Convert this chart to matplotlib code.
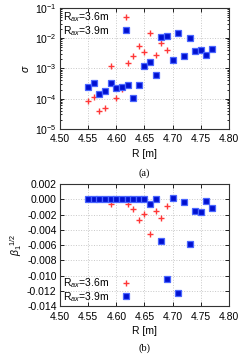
import numpy as np
import matplotlib
matplotlib.use("Agg")
import matplotlib.pyplot as plt
from matplotlib.ticker import LogLocator, FixedLocator, FormatStrFormatter

plt.rcParams['font.family'] = ['Liberation Sans', 'DejaVu Sans']
plt.rcParams['mathtext.fontset'] = 'custom'
plt.rcParams['mathtext.rm'] = 'Liberation Sans'
plt.rcParams['mathtext.it'] = 'Liberation Sans:italic'

# R positions [m]
r_36 = [4.55, 4.56, 4.57, 4.58, 4.59, 4.60, 4.61, 4.62, 4.63, 4.64, 4.65, 4.66, 4.67, 4.68, 4.69]
r_39 = [4.55, 4.56, 4.57, 4.58, 4.59, 4.60, 4.61, 4.62, 4.63, 4.64, 4.65, 4.66,
        4.67, 4.68, 4.69, 4.70, 4.71, 4.72, 4.73, 4.74, 4.75, 4.76, 4.77]

# (a) sigma
sigma_36 = [8.1e-5, 1.15e-4, 3.9e-5, 5.0e-5, 1.24e-3, 1.07e-4, 2.1e-4, 1.45e-3,
            2.6e-3, 5.5e-3, 3.6e-3, 1.43e-2, 2.7e-3, 7.1e-3, 3.9e-3]
sigma_39 = [2.35e-4, 3.2e-4, 1.4e-4, 1.78e-4, 3.2e-4, 2.2e-4, 2.46e-4, 2.9e-4,
            1.05e-4, 2.8e-4, 1.24e-3, 1.63e-3, 6.1e-4, 1.09e-2, 1.17e-2, 1.9e-3,
            1.5e-2, 2.6e-3, 1.03e-2, 3.8e-3, 4.0e-3, 2.8e-3, 4.4e-3]

# (b) beta_1^(1/2)
beta_36 = [0.0, 0.0, 0.0, 0.0, -0.00064, 0.0, 0.0, -0.00064, -0.0013, -0.0027,
           -0.0019, -0.0045, -0.0015, -0.0024, -0.00094]
beta_39 = [0.0, 0.0, 0.0, 0.0, 0.0, 0.0, 0.0, 0.0, 0.0, 0.0, 0.0, -0.00055,
           0.0, -0.0054, -0.0104, 0.0002, -0.0123, -0.0003, -0.0058, -0.0015,
           -0.0017, -0.0002, -0.0012]

labels = [r'R$_{ax}$=3.6m', r'R$_{ax}$=3.9m']
x_ticks = [4.50, 4.55, 4.60, 4.65, 4.70, 4.75, 4.80]
fs = 7.5

fig = plt.figure(figsize=(2.41, 3.56), dpi=100)
ax1 = fig.add_axes([0.249, 0.638, 0.701, 0.340])
ax2 = fig.add_axes([0.249, 0.140, 0.701, 0.343])

red_kw = dict(ls='none', marker='+', ms=4.6, mew=1.0, color='#ff3838')
blue_kw = dict(ls='none', marker='s', ms=4.0, mfc='#0010d0', mec='#4a66ff', mew=0.9)

for ax in (ax1, ax2):
    ax.set_xlim(4.50, 4.80)
    ax.xaxis.set_major_locator(FixedLocator(x_ticks))
    ax.xaxis.set_major_formatter(FormatStrFormatter('%.2f'))
    ax.tick_params(which='both', direction='in', top=True, right=True,
                   labelsize=fs, pad=2.5, width=0.6)
    ax.tick_params(axis='x', pad=4)
    ax.tick_params(which='major', length=3)
    ax.tick_params(which='minor', length=1.6)
    ax.grid(True, which='major', color='#c8c8c8', ls=':', lw=0.7)
    ax.set_xlabel('R [m]', fontsize=fs, labelpad=3)
    for s in ax.spines.values():
        s.set_linewidth(0.8)
        s.set_color('#333333')

ax1.plot(r_36, sigma_36, label=labels[0], **red_kw)
ax1.plot(r_39, sigma_39, label=labels[1], **blue_kw)
ax1.set_yscale('log')
ax1.set_ylim(1e-5, 1e-1)
ax1.yaxis.set_minor_locator(LogLocator(base=10, subs=np.arange(2, 10)))
ax1.set_ylabel(r'$\sigma$', fontsize=fs, labelpad=3)
ax1.legend(loc='upper left', markerfirst=False, frameon=False, fontsize=fs,
           handlelength=1.0, handletextpad=1.2, labelspacing=-0.05,
           borderaxespad=0.1, borderpad=0.15)

ax2.plot(r_36, beta_36, label=labels[0], **red_kw)
ax2.plot(r_39, beta_39, label=labels[1], **blue_kw)
ax2.set_ylim(-0.014, 0.002)
ax2.yaxis.set_major_locator(FixedLocator(np.arange(-0.014, 0.0021, 0.002)))
ax2.yaxis.set_major_formatter(FormatStrFormatter('%.3f'))
ax2.set_ylabel(r'$\beta_1$$^{1/2}$', fontsize=fs, labelpad=2)
ax2.legend(loc='lower left', markerfirst=False, frameon=False, fontsize=fs,
           handlelength=1.0, handletextpad=1.2, labelspacing=-0.05,
           borderaxespad=0.1, borderpad=0.15)

fig.text(0.60, 1 - 173 / 356, '(a)', ha='center', va='center', fontsize=fs,
         family='Liberation Serif')
fig.text(0.60, 1 - 348 / 356, '(b)', ha='center', va='center', fontsize=fs,
         family='Liberation Serif')

fig.savefig('out.png', dpi=100)
